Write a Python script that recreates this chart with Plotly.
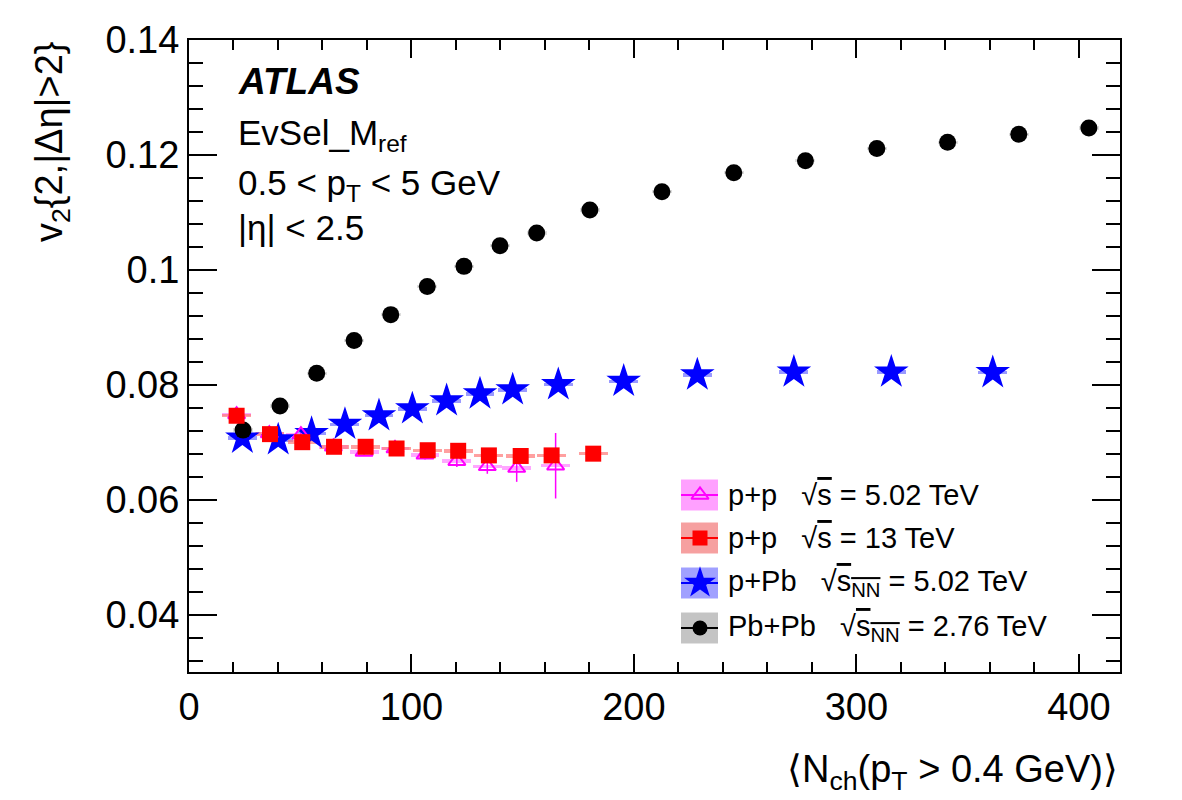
import plotly.graph_objects as go

# ---------------- data ----------------
pbpb_x = [24.3, 40.9, 57.4, 74.2, 90.7, 107.1, 123.6, 139.8, 156.3, 180.2, 212.6, 244.9, 277.1, 309.2, 341.0, 373.0, 404.5]
pbpb_y = [0.0721, 0.0763, 0.0820, 0.0877, 0.0922, 0.0971, 0.1006, 0.1042, 0.1064, 0.1104, 0.1136, 0.1169, 0.1190, 0.1211, 0.1222, 0.1236, 0.1247]
pbpb_sys = [0.0003] * len(pbpb_x)

ppb_x = [24.0, 40.1, 55.1, 70.1, 85.4, 100.4, 115.8, 130.8, 145.5, 166.0, 195.4, 228.5, 271.9, 315.7, 361.3]
ppb_y = [0.0707, 0.0704, 0.0715, 0.0731, 0.0746, 0.0758, 0.0772, 0.0784, 0.0791, 0.0800, 0.0806, 0.0817, 0.0822, 0.0822, 0.0821]
ppb_sys = [0.0003] * len(ppb_x)

pp13_x = [21.4, 36.4, 50.9, 65.2, 79.4, 93.3, 107.3, 121.0, 134.8, 149.1, 163.0, 181.7]
pp13_y = [0.0746, 0.0714, 0.0700, 0.0692, 0.0692, 0.0689, 0.0686, 0.0685, 0.0677, 0.0676, 0.0677, 0.0680]
pp13_sys = [0.0003] * len(pp13_x)

pp5_x = [21.4, 36.1, 50.3, 64.9, 78.7, 92.6, 106.1, 120.4, 134.1, 147.3, 164.8]
pp5_y = [0.0748, 0.0715, 0.0713, 0.0692, 0.0683, 0.0689, 0.0678, 0.0667, 0.0658, 0.0655, 0.0659]
pp5_err = [0.0003, 0.0003, 0.0003, 0.0004, 0.0005, 0.0006, 0.0008, 0.0010, 0.0013, 0.0024, 0.0057]
pp5_sys = [0.0003] * len(pp5_x)

legend_labels = [
    "p+p   √<span style='text-decoration:overline'>s</span> = 5.02 TeV",
    "p+p   √<span style='text-decoration:overline'>s</span> = 13 TeV",
    "p+Pb   √<span style='text-decoration:overline'>s<sub>NN</sub></span> = 5.02 TeV",
    "Pb+Pb   √<span style='text-decoration:overline'>s<sub>NN</sub></span> = 2.76 TeV",
]

FONT = "Liberation Sans, Arial, Helvetica, sans-serif"

series = [
    # name, x, y, sys, marker symbol, size, color, band color, band width
    ("pPb", ppb_x, ppb_y, ppb_sys, "star", 26, "#0000FF", "rgba(120,120,255,0.75)", 13.0),
    ("PbPb", pbpb_x, pbpb_y, pbpb_sys, "circle", 17, "#000000", "rgba(200,200,200,0.6)", 9.0),
    ("pp5", pp5_x, pp5_y, pp5_sys, "triangle-up-open", 15, "#FF00FF", "rgba(255,130,255,0.7)", 13.0),
    ("pp13", pp13_x, pp13_y, pp13_sys, "square", 16, "#FF0000", "rgba(255,120,120,0.7)", 13.0),
]

fig = go.Figure()

# systematic bands
for name, xs, ys, ss, sym, sz, col, bcol, bw in series:
    fig.add_trace(go.Bar(
        x=xs, y=[2 * s for s in ss], base=[y - s for y, s in zip(ys, ss)],
        width=[bw] * len(xs), marker=dict(color=bcol, line=dict(width=0)),
        showlegend=False, hoverinfo="skip"))

# markers
for name, xs, ys, ss, sym, sz, col, bcol, bw in series:
    kw = {}
    if name == "pp5":
        kw["error_y"] = dict(type="data", array=pp5_err, visible=True, color=col, thickness=1.5, width=0)
    fig.add_trace(go.Scatter(
        x=xs, y=ys, mode="markers",
        marker=dict(symbol=sym, size=sz, color=col,
                    line=dict(width=2 if "open" in sym else 0, color=col)),
        showlegend=False, **kw))

# ---------------- hand-built legend (overlay axes 0..1 == plot area) ----------------
leg_rows_y = [(672 - 495) / 632, (672 - 538) / 632, (672 - 583) / 632, (672 - 628) / 632]
box_x0, box_x1 = (681 - 189) / 931, (718 - 189) / 931
mark_x = (700 - 189) / 931
text_x = (726 - 189) / 931
box_h = 15.5 / 632
leg_sym = [("triangle-up-open", 15, "#FF00FF", "rgba(255,150,255,0.9)"),
           ("square", 15, "#FF0000", "rgba(245,150,150,0.9)"),
           ("star", 24, "#0000FF", "rgba(150,150,255,0.9)"),
           ("circle", 15, "#000000", "rgba(190,190,190,0.9)")]

shapes = []
for (sym, sz, col, bcol), yy in zip(leg_sym, leg_rows_y):
    shapes.append(dict(type="rect", xref="x2", yref="y2", x0=box_x0, x1=box_x1,
                       y0=yy - box_h, y1=yy + box_h, fillcolor=bcol, line=dict(width=0), layer="below"))
    shapes.append(dict(type="line", xref="x2", yref="y2", x0=box_x0, x1=box_x1,
                       y0=yy, y1=yy, line=dict(color=col, width=2)))
    fig.add_trace(go.Scatter(
        x=[mark_x], y=[yy], xaxis="x2", yaxis="y2", mode="markers",
        marker=dict(symbol=sym, size=sz, color=col,
                    line=dict(width=2 if "open" in sym else 0, color=col)),
        showlegend=False, cliponaxis=False))

annotations = []
for lab, yy in zip(legend_labels, leg_rows_y):
    annotations.append(dict(x=text_x, y=yy, xref="x2", yref="y2", text=lab, showarrow=False,
                            xanchor="left", yanchor="middle", font=dict(size=29, family=FONT, color="black")))

# in-plot texts
def py(p):
    return (672 - p) / 632

tx = (236 - 189) / 931
annotations += [
    dict(x=tx, y=py(81), xref="x2", yref="y2", text="<b><i>ATLAS</i></b>", showarrow=False,
         xanchor="left", yanchor="middle", font=dict(size=37, family=FONT, color="black")),
    dict(x=tx, y=py(135), xref="x2", yref="y2", text="EvSel_M<sub>ref</sub>", showarrow=False,
         xanchor="left", yanchor="middle", font=dict(size=35, family=FONT, color="black")),
    dict(x=tx, y=py(185), xref="x2", yref="y2", text="0.5 < p<sub>T</sub> < 5 GeV", showarrow=False,
         xanchor="left", yanchor="middle", font=dict(size=35, family=FONT, color="black")),
    dict(x=tx, y=py(227), xref="x2", yref="y2", text="|η| < 2.5", showarrow=False,
         xanchor="left", yanchor="middle", font=dict(size=35, family=FONT, color="black")),
]

# axis titles
annotations += [
    dict(x=1.0, y=(672 - 772) / 632, xref="paper", yref="paper",
         text="⟨N<sub>ch</sub>(p<sub>T</sub> > 0.4 GeV)⟩", showarrow=False,
         xanchor="right", yanchor="middle", font=dict(size=38, family=FONT, color="black")),
    dict(x=(52 - 189) / 931, y=1.0, xref="paper", yref="paper",
         text="v<sub>2</sub>{2,|Δη|>2}", showarrow=False, textangle=-90,
         xanchor="center", yanchor="top", font=dict(size=38, family=FONT, color="black")),
]

axis_common = dict(showgrid=False, zeroline=False, showline=True, linecolor="black", linewidth=2,
                   mirror="allticks", ticks="inside", tickcolor="black", tickwidth=2,
                   tickfont=dict(size=38, family=FONT, color="black"))

fig.update_layout(
    width=1182, height=800,
    margin=dict(l=189, r=62, t=40, b=128),
    paper_bgcolor="white", plot_bgcolor="white",
    barmode="overlay", bargap=0,
    showlegend=False,
    xaxis=dict(range=[0, 418.5], tickvals=[0, 100, 200, 300, 400], ticklen=18,
               minor=dict(dtick=20, tick0=0, ticks="inside", ticklen=10, tickwidth=2, tickcolor="black"),
               **axis_common),
    yaxis=dict(range=[0.03, 0.14], tickvals=[0.04, 0.06, 0.08, 0.1, 0.12, 0.14],
               ticktext=["0.04", "0.06", "0.08", "0.1", "0.12", "0.14"], ticklen=28,
               minor=dict(dtick=0.004, tick0=0.0, ticks="inside", ticklen=14, tickwidth=2, tickcolor="black"),
               **axis_common),
    xaxis2=dict(range=[0, 1], overlaying="x", visible=False, fixedrange=True),
    yaxis2=dict(range=[0, 1], overlaying="y", visible=False, fixedrange=True),
    shapes=shapes, annotations=annotations,
)

fig.write_html("out.html")
